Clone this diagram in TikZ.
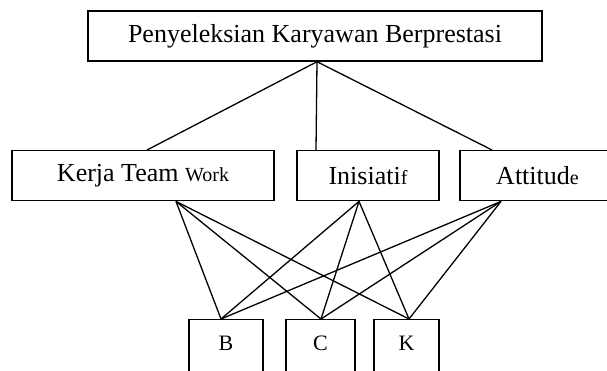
\documentclass[tikz,border=0pt]{standalone}
\usepackage{fontspec}
\setmainfont{Liberation Serif}
\usetikzlibrary{positioning}
\newcommand{\smallpart}[1]{{\fontsize{20}{24}\selectfont #1}}

\begin{document}
\begin{tikzpicture}[x=1pt,y=-1pt,
    box/.style={draw,line width=1.4pt,inner sep=0pt,minimum height=50pt,font=\fontsize{26}{30}\selectfont},
    letter/.style={draw,line width=1.4pt,inner sep=0pt,anchor=north,text height=31pt,text depth=30pt,font=\fontsize{22}{26}\selectfont},
    link/.style={line width=1.3pt}]
\clip (0,0) rectangle (607,370);
\node[box,minimum width=454pt] (goal) at (315,36) {Penyeleksian Karyawan Berprestasi};
\node[box,minimum width=262pt] (team) at (143,175.7) {Kerja Team \smallpart{Work}};
\node[box,minimum width=142pt] (inis) at (368,175.7) {Inisiati\smallpart{f}};
\node[box,minimum width=155pt] (atti) at (537.5,175.7) {Attitud\smallpart{e}};
\node[letter,minimum width=74pt] (b) at (226,319) {B};
\node[letter,minimum width=69pt] (c) at (320.5,319) {C};
\node[letter,minimum width=65pt] (k) at (406.5,319) {K};
% goal to criteria
\path[link] ([xshift=2pt]goal.south) edge ([xshift=4pt]team.north);
\path[link] ([xshift=2pt]goal.south) edge ([xshift=-52pt]inis.north);
\path[link] ([xshift=2pt]goal.south) edge ([xshift=-45.5pt]atti.north);
% criteria to alternatives
\path[link] ([xshift=33pt]team.south) edge ([xshift=-5pt]b.north);
\path[link] ([xshift=33pt]team.south) edge ([xshift=0.5pt]c.north);
\path[link] ([xshift=33pt]team.south) edge ([xshift=2.5pt]k.north);
\path[link] ([xshift=-9pt]inis.south) edge ([xshift=-5pt]b.north);
\path[link] ([xshift=-9pt]inis.south) edge ([xshift=0.5pt]c.north);
\path[link] ([xshift=-9pt]inis.south) edge ([xshift=2.5pt]k.north);
\path[link] ([xshift=-36.5pt]atti.south) edge ([xshift=-5pt]b.north);
\path[link] ([xshift=-36.5pt]atti.south) edge ([xshift=0.5pt]c.north);
\path[link] ([xshift=-36.5pt]atti.south) edge ([xshift=2.5pt]k.north);
\end{tikzpicture}
\end{document}
